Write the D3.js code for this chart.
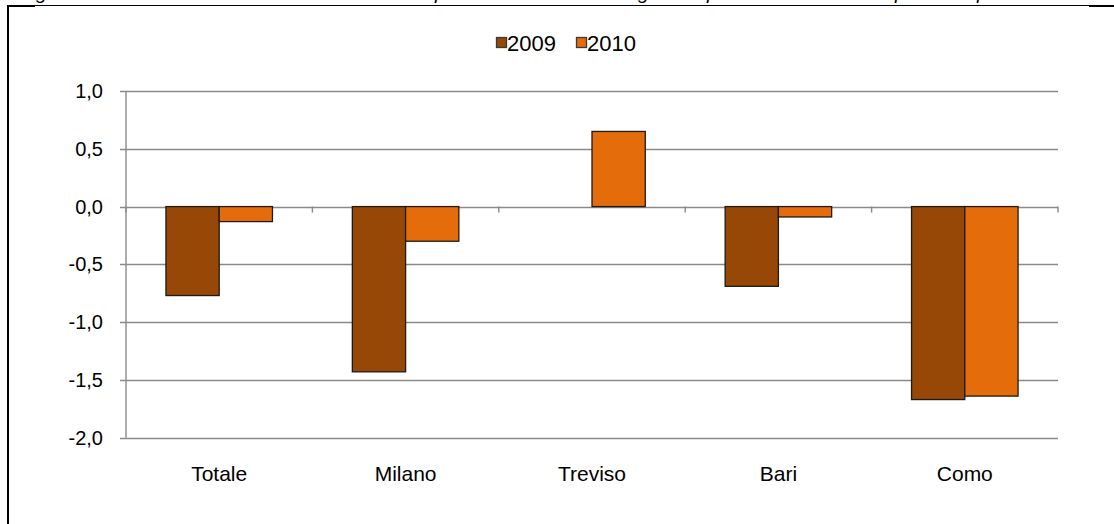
<!DOCTYPE html>
<html><head><meta charset="utf-8">
<script src="https://cdn.jsdelivr.net/npm/d3@7"></script>
<style>body{margin:0;background:#fff}svg{display:block}text{font-family:"Liberation Sans",Arial,sans-serif}</style>
</head><body><svg id="c" width="1114" height="524"></svg>
<script>
const categories = ["Totale","Milano","Treviso","Bari","Como"];
const seriesNames = ["2009","2010"];
const values2009 = [-0.77,-1.43,0.0,-0.69,-1.67];
const values2010 = [-0.13,-0.30,0.65,-0.09,-1.64];
const yTicks = [1.0,0.5,0.0,-0.5,-1.0,-1.5,-2.0];
const colors = ["#974706","#E46C0A"];
const titleGlyphs = [{c:"g",x:36},{c:"p",x:435},{c:"g",x:638},{c:"p",x:707},{c:"p",x:895},{c:"p",x:977}];

const svg = d3.select("#c");
svg.selectAll("text.tg").data(titleGlyphs).join("text").attr("class","tg")
  .attr("x",d=>d.x).attr("y",-1).attr("font-size",20).attr("font-style","italic").text(d=>d.c);
svg.append("line").attr("x1",7).attr("x2",1114).attr("y1",5.5).attr("y2",5.5).attr("stroke","#000").attr("stroke-width",1);
svg.append("line").attr("x1",7).attr("x2",35).attr("y1",6).attr("y2",6).attr("stroke","#000").attr("stroke-width",2);
svg.append("line").attr("x1",1089).attr("x2",1114).attr("y1",6).attr("y2",6).attr("stroke","#000").attr("stroke-width",2);
svg.append("line").attr("x1",8).attr("x2",8).attr("y1",5).attr("y2",524).attr("stroke","#000").attr("stroke-width",2);

const x0 = d3.scaleBand().domain(categories).range([126,1058]).paddingInner(0).paddingOuter(0);
const y = d3.scaleLinear().domain([-2,1]).range([437.7,91]);
const x1 = d3.scaleBand().domain(seriesNames).range([0,x0.bandwidth()]).paddingInner(0).paddingOuter(0.75);

const grid = "#8a8a8a";
svg.append("g").selectAll("line").data(yTicks).join("line")
  .attr("x1",120).attr("x2",1058).attr("y1",d=>Math.round(y(d))+0.5).attr("y2",d=>Math.round(y(d))+0.5)
  .attr("stroke",grid).attr("stroke-width",1.4);
svg.append("line").attr("x1",126).attr("x2",126).attr("y1",y(1)).attr("y2",y(-2)).attr("stroke",grid).attr("stroke-width",1.4);
const bounds = categories.map(c=>x0(c)).concat([x0.range()[1]]);
svg.append("g").selectAll("line").data(bounds).join("line")
  .attr("x1",d=>d).attr("x2",d=>d).attr("y1",y(0)).attr("y2",y(0)+6).attr("stroke",grid).attr("stroke-width",1.4);

svg.append("g").selectAll("text").data(yTicks).join("text")
  .attr("x",103).attr("y",d=>y(d)).attr("dy","0.35em").attr("text-anchor","end")
  .attr("font-size",20).attr("fill","#000").text(d=>d3.format(".1f")(d).replace(".",",").replace("−","-"));

const data = [];
categories.forEach((c,i)=>{ data.push({c,s:"2009",v:values2009[i],col:colors[0]}); data.push({c,s:"2010",v:values2010[i],col:colors[1]}); });
svg.append("g").selectAll("rect").data(data).join("rect")
  .attr("x",d=>x0(d.c)+x1(d.s)).attr("width",x1.bandwidth())
  .attr("y",d=>y(Math.max(0,d.v))).attr("height",d=>Math.abs(y(d.v)-y(0)))
  .attr("fill",d=>d.col).attr("stroke",d=>d.v===0?"#c8c8c8":"#1e1a14").attr("stroke-width",1.3);

svg.append("g").selectAll("text").data(categories).join("text")
  .attr("x",d=>x0(d)+x0.bandwidth()/2).attr("y",481).attr("text-anchor","middle")
  .attr("font-size",21).attr("fill","#000").text(d=>d);

const lg = svg.append("g");
const legX = [496,576];
seriesNames.forEach((s,i)=>{
  lg.append("rect").attr("x",legX[i]+0.5).attr("y",37.5).attr("width",10).attr("height",10)
    .attr("fill",colors[i]).attr("stroke","#3a3a3a").attr("stroke-width",1.3);
  lg.append("text").attr("x",legX[i]+11).attr("y",51).attr("font-size",22).attr("fill","#000").text(s);
});
</script></body></html>
